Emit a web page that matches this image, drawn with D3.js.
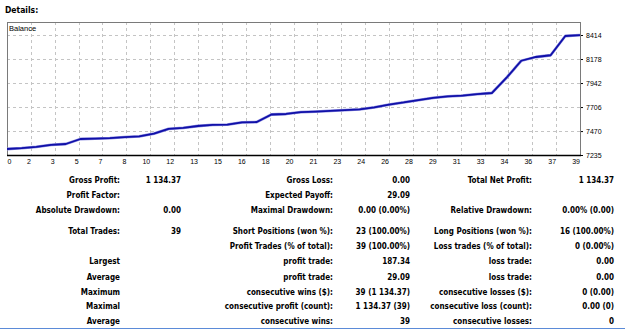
<!DOCTYPE html>
<html><head><meta charset="utf-8">
<script src="https://cdn.jsdelivr.net/npm/d3@7"></script>
<style>
html,body{margin:0;padding:0;background:#fff;}
svg{display:block;}
</style></head>
<body>
<script>
// ---- data ----
const tradeIndex = d3.range(0, 40);
const balance = [7294,7302,7314,7335,7343,7392,7395,7400,7410,7418,
                 7445,7492,7502,7520,7530,7533,7555,7559,7633,7638,
                 7657,7662,7669,7675,7684,7702,7731,7751,7775,7797,
                 7810,7819,7834,7844,7994,8161,8198,8215,8404,8413];
const xTickLabels = ["0","2","3","5","7","8","10","12","13","15","16","18","20","21","23","24","26","28","29","31","33","34","36","37","39"];
const yTickValues = [7235,7470,7706,7942,8178,8414];

const col1Labels = ["Gross Profit:","Profit Factor:","Absolute Drawdown:","Total Trades:","","Largest","Average","Maximum","Maximal","Average"];
const col1Values = ["1 134.37","","0.00","39","","","","","",""];
const col2Labels = ["Gross Loss:","Expected Payoff:","Maximal Drawdown:","Short Positions (won %):","Profit Trades (% of total):","profit trade:","profit trade:","consecutive wins ($):","consecutive profit (count):","consecutive wins:"];
const col2Values = ["0.00","29.09","0.00 (0.00%)","23 (100.00%)","39 (100.00%)","187.34","29.09","39 (1 134.37)","1 134.37 (39)","39"];
const col3Labels = ["Total Net Profit:","","Relative Drawdown:","Long Positions (won %):","Loss trades (% of total):","loss trade:","loss trade:","consecutive losses ($):","consecutive loss (count):","consecutive losses:"];
const col3Values = ["1 134.37","","0.00% (0.00)","16 (100.00%)","0 (0.00%)","0.00","0.00","0 (0.00)","0.00 (0)","0"];
const rowY = [180,195,210,231,246,261,277,292,306,321];

// ---- layout ----
const W = 625, H = 330;
const plot = {left:7, right:580, top:22, bottom:155};
const svg = d3.select("body").append("svg").attr("width",W).attr("height",H);

const txtFont = "'DejaVu Sans Condensed','DejaVu Sans',sans-serif";
const smallFont = "'Liberation Sans',Arial,sans-serif";

svg.append("text").attr("x",5).attr("y",13).text("Details:")
  .attr("font-family",txtFont).attr("font-weight","bold").attr("font-size",8.5).attr("fill","#000");

const xg = d3.scaleLinear().domain([0, xTickLabels.length-1]).range([plot.left, plot.right]);
const x = d3.scaleLinear().domain([0, 39]).range([plot.left, plot.right]);
const y = d3.scaleLinear().domain([7235, 8414]).range([plot.bottom, 35]);

// grid
const grid = svg.append("g").attr("stroke","#c4c4c4").attr("stroke-dasharray","3,3").attr("stroke-width",1);
grid.selectAll("line.v").data(d3.range(1, xTickLabels.length-1)).join("line")
  .attr("x1",d=>Math.round(xg(d))+0.5).attr("x2",d=>Math.round(xg(d))+0.5)
  .attr("y1",plot.top).attr("y2",plot.bottom);
grid.selectAll("line.h").data(yTickValues.slice(1)).join("line")
  .attr("x1",plot.left).attr("x2",plot.right)
  .attr("y1",d=>Math.round(y(d))+0.5).attr("y2",d=>Math.round(y(d))+0.5);

// frame
svg.append("rect").attr("x",plot.left+0.5).attr("y",plot.top+0.5)
  .attr("width",plot.right-plot.left).attr("height",plot.bottom-plot.top)
  .attr("fill","none").attr("stroke","#7a7a7a").attr("stroke-width",1);
svg.append("line").attr("x1",plot.left).attr("x2",plot.right+1)
  .attr("y1",plot.bottom+0.5).attr("y2",plot.bottom+0.5).attr("stroke","#000").attr("stroke-width",1.5);

svg.append("text").attr("x",9).attr("y",31).text("Balance")
  .attr("font-family",smallFont).attr("font-size",7.5).attr("fill","#000");

// x axis
const xAxis = d3.axisBottom(xg).tickValues(d3.range(0, xTickLabels.length))
  .tickFormat(i=>xTickLabels[i]).tickSize(0).tickPadding(3);
const gx = svg.append("g").attr("transform",`translate(0,${plot.bottom+1})`).call(xAxis);
gx.select(".domain").remove();
gx.selectAll("text").attr("font-family",smallFont).attr("font-size",7).attr("fill","#000")
  .attr("text-anchor",(d,i)=>i===0?"start":"end")
  .attr("dx",(d,i)=>i===0?0:-0.5);

// y axis (right)
const yAxis = d3.axisRight(y).tickValues(yTickValues).tickFormat(d3.format("d")).tickSize(2).tickPadding(3);
const gy = svg.append("g").attr("transform",`translate(${plot.right+1},0)`).call(yAxis);
gy.select(".domain").remove();
gy.selectAll("line").attr("stroke","#000");
gy.selectAll("text").attr("font-family",smallFont).attr("font-size",7).attr("fill","#000");

// balance line
const line = d3.line().x((d,i)=>x(tradeIndex[i])).y(d=>y(d));
svg.append("path").datum(balance).attr("d",line)
  .attr("fill","none").attr("stroke","#8f8fe0").attr("stroke-width",2.8).attr("stroke-linejoin","round");
svg.append("path").datum(balance).attr("d",line)
  .attr("fill","none").attr("stroke","#1010a8").attr("stroke-width",1.8).attr("stroke-linejoin","round");

// stats
const stats = svg.append("g").attr("font-family",txtFont).attr("font-weight","bold")
  .attr("font-size",8).attr("fill","#000").attr("text-anchor","end");
function col(labels, xpos){
  stats.append("g").selectAll("text").data(labels).join("text")
    .attr("x",xpos).attr("y",(d,i)=>rowY[i]+3).text(d=>d);
}
col(col1Labels,120); col(col1Values,181);
col(col2Labels,333); col(col2Values,410);
col(col3Labels,532); col(col3Values,614);

svg.append("line").attr("x1",0).attr("x2",W).attr("y1",328.5).attr("y2",328.5)
  .attr("stroke","#5b8bd8").attr("stroke-width",1);
</script>
</body></html>
